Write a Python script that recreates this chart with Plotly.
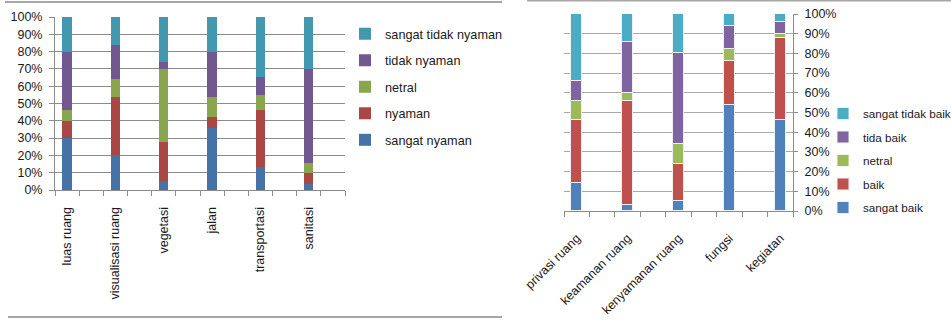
import plotly.graph_objects as go

W, H = 951, 321

# ---- Left chart data ----
left_categories = ["luas ruang", "visualisasi ruang", "vegetasi", "jalan", "transportasi", "sanitasi"]
left_series = ["sangat nyaman", "nyaman", "netral", "tidak nyaman", "sangat tidak nyaman"]
sangat_nyaman = [30, 20, 5, 36, 13.5, 3.5]
nyaman = [10, 34, 23, 6, 32.5, 6.5]
netral_left = [6, 10, 42, 12, 9, 5.5]
tidak_nyaman = [34, 20, 4, 26, 10.5, 54.5]
sangat_tidak_nyaman = [20, 16, 26, 20, 34.5, 30]
left_values = [sangat_nyaman, nyaman, netral_left, tidak_nyaman, sangat_tidak_nyaman]
left_colors = ["#4572A7", "#AA4643", "#89A54E", "#71588F", "#4198AF"]

# ---- Right chart data ----
right_categories = ["privasi ruang", "keamanan ruang", "kenyamanan ruang", "fungsi", "kegiatan"]
right_series = ["sangat baik", "baik", "netral", "tida baik", "sangat tidak baik"]
sangat_baik = [14, 3, 5, 54, 46]
baik = [32, 53, 19, 22, 42]
netral_right = [10, 4, 10, 6, 2]
tida_baik = [10, 26, 46, 12, 6]
sangat_tidak_baik = [34, 14, 20, 6, 4]
right_values = [sangat_baik, baik, netral_right, tida_baik, sangat_tidak_baik]
right_colors = ["#4F81BD", "#C0504D", "#9BBB59", "#8064A2", "#4BACC6"]

y_ticks = list(range(0, 101, 10))
y_labels = [f"{v}%" for v in y_ticks]

FONT = "Liberation Sans"
GRID = "#8c8c8c"

# categories occupy every other slot on the axis (Excel layout with blank columns)
left_pos = [2 * i + 0.5 for i in range(len(left_categories))]
right_pos = [2 * i + 0.5 for i in range(len(right_categories))]

fig = go.Figure()

n = len(left_series)
for i, (name, vals, col) in enumerate(zip(left_series, left_values, left_colors)):
    fig.add_trace(go.Bar(
        x=left_pos, y=vals, name=name, marker=dict(color=col, line=dict(width=0)),
        width=0.38, xaxis="x", yaxis="y", legend="legend", legendgroup=name,
        legendrank=n - i, hovertext=left_categories,
    ))

n = len(right_series)
for i, (name, vals, col) in enumerate(zip(right_series, right_values, right_colors)):
    fig.add_trace(go.Bar(
        x=right_pos, y=vals, name=name,
        marker=dict(color=col, line=dict(width=1, color="#f0f0f0")),
        width=0.44, xaxis="x2", yaxis="y2", legend="legend2", legendgroup="r" + name,
        legendrank=n - i, hovertext=right_categories,
    ))

def px_x(p):
    return p / W

def px_y(p):
    return 1 - p / H

tickfont = dict(family=FONT, size=12.5, color="#1a1a1a")

fig.update_layout(
    width=W, height=H, margin=dict(l=0, r=0, t=0, b=0, autoexpand=False),
    paper_bgcolor="white", plot_bgcolor="white",
    barmode="stack", bargap=0,
    font=dict(family=FONT, size=12, color="#1a1a1a"),
    xaxis=dict(
        domain=[px_x(55), px_x(345)], range=[0, 12], anchor="y", automargin=False,
        tickmode="array", tickvals=left_pos, ticktext=left_categories,
        tickangle=-90, ticks="outside", ticklen=11, tickcolor="rgba(0,0,0,0)",
        showgrid=False, zeroline=False,
        showline=True, linecolor=GRID, linewidth=1,
        tickfont=tickfont,
        minor=dict(tickmode="linear", tick0=0, dtick=1, ticks="outside",
                   ticklen=5, tickcolor=GRID, showgrid=False),
    ),
    yaxis=dict(
        domain=[px_y(190), px_y(17)], range=[0, 100], anchor="x", automargin=False,
        tickmode="array", tickvals=y_ticks, ticktext=y_labels,
        ticks="outside", ticklen=5, tickcolor=GRID, ticklabelstandoff=4,
        showgrid=True, gridcolor=GRID, gridwidth=1, zeroline=False,
        showline=True, linecolor=GRID, linewidth=1,
        tickfont=tickfont,
    ),
    xaxis2=dict(
        domain=[px_x(564), px_x(793)], range=[0, 9], anchor="y2", automargin=False,
        tickmode="array", tickvals=right_pos, ticktext=right_categories,
        tickangle=-45, ticks="outside", ticklen=14, tickcolor="rgba(0,0,0,0)",
        showgrid=False, zeroline=False,
        showline=True, linecolor=GRID, linewidth=1,
        tickfont=tickfont,
        minor=dict(tickmode="linear", tick0=0, dtick=1, ticks="outside",
                   ticklen=5, tickcolor=GRID, showgrid=False),
    ),
    yaxis2=dict(
        domain=[px_y(211), px_y(14)], range=[0, 100], anchor="x2", side="right",
        automargin=False,
        tickmode="array", tickvals=y_ticks, ticktext=y_labels,
        ticks="outside", ticklen=4, tickcolor=GRID, ticklabelstandoff=4,
        showgrid=True, gridcolor="#a8a8a8", gridwidth=1, zeroline=False,
        showline=True, linecolor=GRID, linewidth=1,
        tickfont=tickfont,
    ),
    legend=dict(
        x=px_x(345), y=px_y(19), xanchor="left", yanchor="top",
        traceorder="grouped", tracegroupgap=7,
        font=dict(family=FONT, size=12.7, color="#1a1a1a"),
        bgcolor="rgba(0,0,0,0)", itemwidth=30,
    ),
    legend2=dict(
        x=px_x(823), y=px_y(99), xanchor="left", yanchor="top",
        traceorder="grouped", tracegroupgap=4.5,
        font=dict(family=FONT, size=11.7, color="#1a1a1a"),
        bgcolor="rgba(0,0,0,0)", itemwidth=30,
    ),
    shapes=[
        dict(type="line", xref="paper", yref="paper", x0=px_x(5), x1=px_x(502),
             y0=px_y(2), y1=px_y(2), line=dict(color="#a6a6a6", width=2)),
        dict(type="line", xref="paper", yref="paper", x0=px_x(8), x1=px_x(502),
             y0=px_y(317), y1=px_y(317), line=dict(color="#a6a6a6", width=2)),
        dict(type="line", xref="paper", yref="paper", x0=px_x(527), x1=px_x(951),
             y0=px_y(0.5), y1=px_y(0.5), line=dict(color="#a6a6a6", width=2)),
    ],
)

fig.write_html("out.html")
